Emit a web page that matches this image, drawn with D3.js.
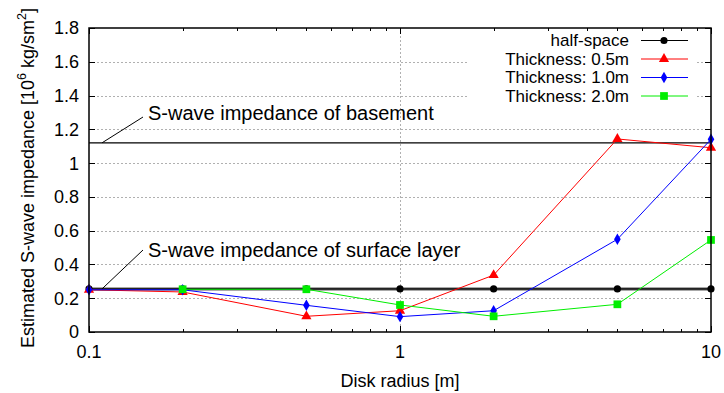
<!DOCTYPE html>
<html>
<head>
<meta charset="utf-8">
<script src="https://cdn.jsdelivr.net/npm/d3@7"></script>
<style>
  html, body { margin: 0; padding: 0; background: #fff; }
  svg { display: block; font-family: "Liberation Sans", Arial, sans-serif; }
</style>
</head>
<body>
<svg id="chart" width="724" height="393"></svg>
<script>
// Disk radius values [m]
const radii = [0.1, 0.2, 0.5, 1, 2, 5, 10];
// Estimated S-wave impedance [10^6 kg/sm^2]
const halfSpace = [0.255, 0.255, 0.255, 0.255, 0.255, 0.255, 0.255];
const thick05 = [0.25, 0.237, 0.093, 0.126, 0.337, 1.143, 1.091];
const thick10 = [0.25, 0.25, 0.158, 0.091, 0.126, 0.549, 1.141];
const thick20 = [null, 0.253, 0.253, 0.16, 0.093, 0.164, 0.545];
const seriesNames = ["half-space", "Thickness: 0.5m", "Thickness: 1.0m", "Thickness: 2.0m"];
const basementImpedance = 1.12;
const surfaceImpedance = 0.255;
const yTicks = [0, 0.2, 0.4, 0.6, 0.8, 1, 1.2, 1.4, 1.6, 1.8];
const xTicks = [0.1, 1, 10];

const svg = d3.select("#chart");
const L = 89, R = 711, T = 28, B = 332;
const x = d3.scaleLog().domain([0.1, 10]).range([L, R]);
const y = d3.scaleLinear().domain([0, 1.8]).range([B, T]);

// dotted grid
const grid = svg.append("g").attr("stroke", "#b0b0b0").attr("stroke-width", 1).attr("stroke-dasharray", "2,2");
yTicks.filter(v => v > 0 && v < 1.8).forEach(v => {
  grid.append("line").attr("x1", L).attr("x2", R).attr("y1", Math.round(y(v)) + 0.5).attr("y2", Math.round(y(v)) + 0.5);
});
grid.append("line").attr("x1", Math.round(x(1)) + 0.5).attr("x2", Math.round(x(1)) + 0.5).attr("y1", T).attr("y2", B);

// legend background hides the grid behind it
svg.append("rect").attr("x", 467).attr("y", T + 1).attr("width", 230).attr("height", 76).attr("fill", "#fff");

// ticks (inward, mirrored)
const tk = svg.append("g").attr("stroke", "#000").attr("stroke-width", 1);
yTicks.forEach(v => {
  const yy = Math.round(y(v)) + 0.5;
  tk.append("line").attr("x1", L).attr("x2", L + 6).attr("y1", yy).attr("y2", yy);
  tk.append("line").attr("x1", R).attr("x2", R - 6).attr("y1", yy).attr("y2", yy);
});
const minor = [];
[0.1, 1].forEach(d => { for (let k = 2; k <= 9; k++) minor.push(d * k); });
minor.forEach(v => {
  const xx = Math.round(x(v)) + 0.5;
  tk.append("line").attr("x1", xx).attr("x2", xx).attr("y1", B).attr("y2", B - 3);
  tk.append("line").attr("x1", xx).attr("x2", xx).attr("y1", T).attr("y2", T + 3);
});
xTicks.forEach(v => {
  const xx = Math.round(x(v)) + 0.5;
  tk.append("line").attr("x1", xx).attr("x2", xx).attr("y1", B).attr("y2", B - 6);
  tk.append("line").attr("x1", xx).attr("x2", xx).attr("y1", T).attr("y2", T + 6);
});

// tick labels
const lab = svg.append("g").attr("font-size", 18).attr("fill", "#000");
yTicks.forEach(v => {
  lab.append("text").attr("x", L - 10).attr("y", y(v)).attr("dy", "0.36em")
    .attr("text-anchor", "end").text(d3.format("~g")(v));
});
xTicks.forEach(v => {
  lab.append("text").attr("x", x(v)).attr("y", B + 26).attr("text-anchor", "middle").text(v);
});

// axis titles
svg.append("text").attr("x", (L + R) / 2).attr("y", 387).attr("text-anchor", "middle")
  .attr("font-size", 18).text("Disk radius [m]");
const yl = svg.append("text").attr("transform", `translate(34,178) rotate(-90)`)
  .attr("text-anchor", "middle").attr("font-size", 18);
yl.append("tspan").text("Estimated S-wave impedance [10");
yl.append("tspan").attr("dy", -8).attr("font-size", 12.5).text("6");
yl.append("tspan").attr("dy", 8).text(" kg/sm");
yl.append("tspan").attr("dy", -8).attr("font-size", 12.5).text("2");
yl.append("tspan").attr("dy", 8).text("]");

// reference impedance lines
svg.append("line").attr("x1", L).attr("x2", R).attr("y1", y(basementImpedance)).attr("y2", y(basementImpedance))
  .attr("stroke", "#000").attr("stroke-width", 1.2);
svg.append("line").attr("x1", L).attr("x2", R).attr("y1", y(surfaceImpedance)).attr("y2", y(surfaceImpedance))
  .attr("stroke", "#555").attr("stroke-width", 3);

// annotations
svg.append("line").attr("x1", 102).attr("y1", y(basementImpedance)).attr("x2", 143).attr("y2", 117).attr("stroke", "#000");
svg.append("text").attr("x", 148).attr("y", 120).attr("font-size", 20).text("S-wave impedance of basement");
svg.append("line").attr("x1", 102).attr("y1", y(surfaceImpedance)).attr("x2", 143).attr("y2", 250).attr("stroke", "#000");
svg.append("text").attr("x", 148).attr("y", 257).attr("font-size", 20).text("S-wave impedance of surface layer");

// series
const colors = ["#000000", "#ff0000", "#0000ff", "#00ee00"];
const allSeries = [halfSpace, thick05, thick10, thick20];
const symbols = [d3.symbolCircle, d3.symbolTriangle, d3.symbolDiamond, d3.symbolSquare];
const symSize = [40, 45, 38, 60];
const line = d3.line().defined(d => d[1] != null).x(d => x(d[0])).y(d => y(d[1]));

function drawSymbol(g, i, cx, cy) {
  g.append("path").attr("d", d3.symbol().type(symbols[i]).size(symSize[i])())
    .attr("transform", `translate(${cx},${cy})`).attr("fill", colors[i]);
}

allSeries.forEach((vals, i) => {
  const pts = radii.map((r, j) => [r, vals[j]]);
  const g = svg.append("g");
  g.append("path").attr("d", line(pts)).attr("fill", "none").attr("stroke", colors[i]).attr("stroke-width", 1);
  pts.filter(p => p[1] != null).forEach(p => drawSymbol(g, i, x(p[0]), y(p[1])));
});

// legend
const lg = svg.append("g").attr("font-size", 17);
const rows = [40.5, 59, 77.5, 96];
seriesNames.forEach((name, i) => {
  lg.append("text").attr("x", 629).attr("y", rows[i]).attr("dy", "0.35em").attr("text-anchor", "end").text(name);
  lg.append("line").attr("x1", 641).attr("x2", 688).attr("y1", rows[i]).attr("y2", rows[i])
    .attr("stroke", colors[i]).attr("stroke-width", 1);
  drawSymbol(lg, i, 664, rows[i]);
});

// frame
svg.append("rect").attr("x", L).attr("y", T).attr("width", R - L).attr("height", B - T)
  .attr("fill", "none").attr("stroke", "#000").attr("stroke-width", 1.5);
</script>
</body>
</html>
